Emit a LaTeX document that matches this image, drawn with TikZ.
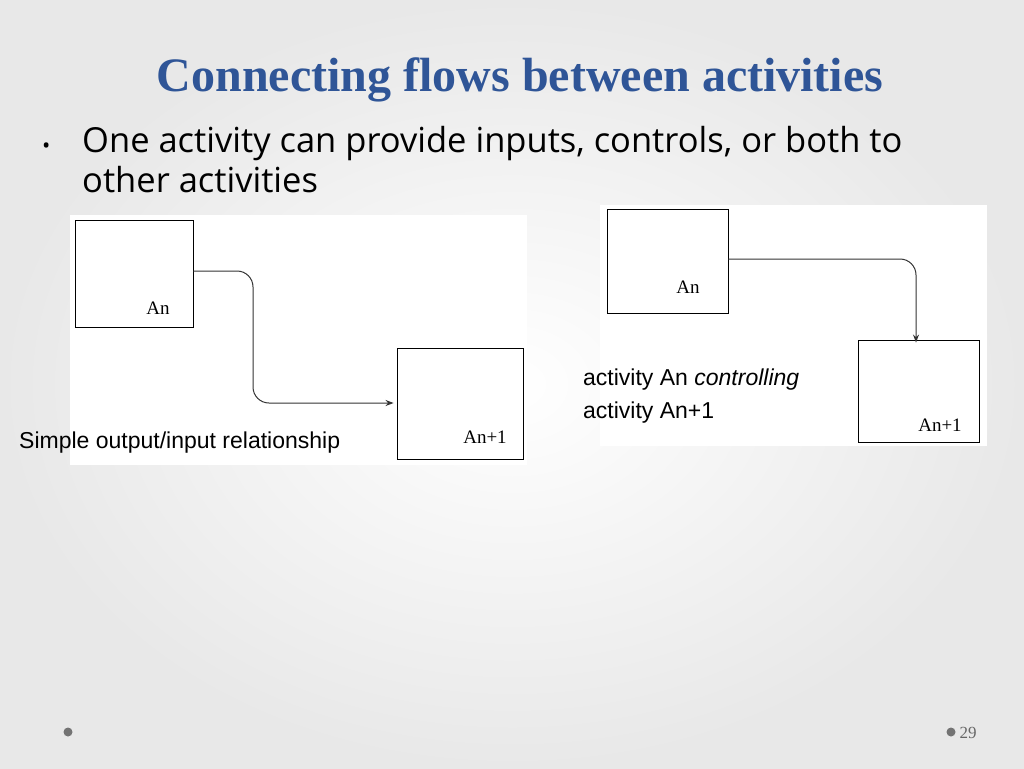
\documentclass[tikz,border=0pt]{standalone}
\usepackage{fontspec}
\usetikzlibrary{arrows.meta}
\setmainfont{Liberation Serif}
\newfontfamily\bodyfont{Open Sans}
\newfontfamily\labfont{Liberation Sans}
\definecolor{titleblue}{HTML}{2F5597}
\begin{document}
\begin{tikzpicture}[x=1pt,y=-1pt,
  box/.style={draw=black,line width=0.9pt,fill=white},
  boxlab/.style={font=\fontsize{19}{19}\selectfont},
  flow/.style={draw=black!80,line width=1pt,-{Stealth[length=8pt,width=6pt]},rounded corners=16pt},
  lab/.style={font=\labfont\fontsize{23}{28}\selectfont,anchor=west,inner sep=0pt}]
\useasboundingbox (0,0) rectangle (1024,768);
\shade[inner color=white,outer color=black!9] (0,0) rectangle (1024,768);
\node[font=\bfseries\fontsize{48}{52}\selectfont,text=titleblue] (title) at (520,80) {Connecting flows between activities};
\node[font=\bodyfont\fontsize{22}{29}\selectfont,anchor=west,inner sep=0pt] (b) at (42,148) {•};
\node[font=\bodyfont\fontsize{34.5}{40}\selectfont,anchor=north west,align=left,inner sep=0pt] (txt) at (82,126) {One activity can provide inputs, controls, or both to\\other activities};
% white image areas
\fill[white] (70,215) rectangle (527,465);
\fill[white] (600,205) rectangle (987,446);
% left
\node[box,minimum width=118pt,minimum height=107pt] (a1) at (134,273.5) {};
\node[boxlab] (a1l) at (158,308) {An};
\node[box,minimum width=126pt,minimum height=111pt] (a2) at (460,403.5) {};
\node[boxlab] (a2l) at (485,437) {An+1};
\coordinate (c1) at (253,271);
\coordinate (c2) at (253,403);
\draw[flow] (a1.east |- c1) -- (c1) -- (c2) -- ([xshift=-3pt]a2.west |- c2);
\node[lab] (l1) at (19,443) {Simple output/input relationship};
% right
\node[box,minimum width=121pt,minimum height=104pt] (b1) at (667.5,261) {};
\node[boxlab] (b1l) at (688,287) {An};
\node[box,minimum width=121pt,minimum height=102pt] (b2) at (918.5,391) {};
\node[boxlab] (b2l) at (940,425) {An+1};
\coordinate (d1) at (916,259);
\draw[flow] (b1.east |- d1) -- (d1) -- ([yshift=-3pt]d1 |- b2.north);
\node[lab] (l2) at (583,380) {activity An \textit{controlling}};
\node[lab] (l3) at (583,413) {activity An+1};
% footer
\fill[black!55] (68,732) circle (4.5);
\fill[black!55] (951,732) circle (4.5);
\node[font=\fontsize{17}{17}\selectfont,text=black!60] (pg) at (968,733) {29};
\end{tikzpicture}
\end{document}
